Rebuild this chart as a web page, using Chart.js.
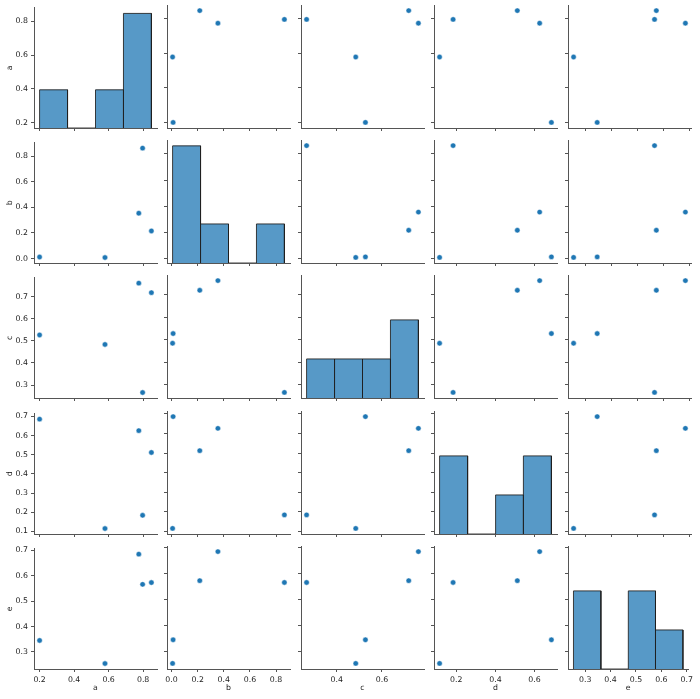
<!DOCTYPE html>
<html>
<head>
<meta charset="utf-8">
<script src="https://cdn.jsdelivr.net/npm/chart.js@4.4.1/dist/chart.umd.min.js"></script>
<style>
html, body { margin: 0; padding: 0; background: #ffffff; }
#fig { position: relative; width: 700px; height: 699px; overflow: hidden; background: #ffffff; }
#fig canvas { position: absolute; }
</style>
</head>
<body>
<div id="fig"></div>
<script>
// ---- data ----
const variables = ['a', 'b', 'c', 'd', 'e'];

const aValues = [0.200, 0.579, 0.775, 0.797, 0.848];
const bValues = [0.012, 0.008, 0.355, 0.864, 0.216];
const cValues = [0.527, 0.484, 0.762, 0.266, 0.719];
const dValues = [0.686, 0.115, 0.626, 0.184, 0.512];
const eValues = [0.345, 0.254, 0.685, 0.566, 0.573];

// histogram bins (edges) and counts on the diagonal
const aBinEdges = [0.200, 0.362, 0.524, 0.686, 0.848];
const aCounts   = [1, 0, 1, 3];
const bBinEdges = [0.008, 0.222, 0.436, 0.650, 0.864];
const bCounts   = [3, 1, 0, 1];
const cBinEdges = [0.266, 0.390, 0.514, 0.638, 0.762];
const cCounts   = [1, 1, 1, 2];
const dBinEdges = [0.115, 0.258, 0.401, 0.543, 0.686];
const dCounts   = [2, 0, 1, 2];
const eBinEdges = [0.254, 0.362, 0.470, 0.577, 0.685];
const eCounts   = [2, 0, 2, 1];

// tick labels: rows (y) and columns (x)
const aRowTicks = [0.2, 0.4, 0.6, 0.8];
const bRowTicks = [0.0, 0.2, 0.4, 0.6, 0.8];
const cRowTicks = [0.3, 0.4, 0.5, 0.6, 0.7];
const dRowTicks = [0.1, 0.2, 0.3, 0.4, 0.5, 0.6, 0.7];
const eRowTicks = [0.3, 0.4, 0.5, 0.6, 0.7];

const aColTicks = [0.2, 0.4, 0.6, 0.8];
const bColTicks = [0.0, 0.2, 0.4, 0.6, 0.8];
const cColTicks = [0.4, 0.6];
const dColTicks = [0.2, 0.4, 0.6];
const eColTicks = [0.3, 0.4, 0.5, 0.6, 0.7];

// ---- tables built from the arrays ----
const valuesByVar = { a: aValues, b: bValues, c: cValues, d: dValues, e: eValues };
const edgesByVar  = { a: aBinEdges, b: bBinEdges, c: cBinEdges, d: dBinEdges, e: eBinEdges };
const countsByVar = { a: aCounts, b: bCounts, c: cCounts, d: dCounts, e: eCounts };
const rowTicksByVar = { a: aRowTicks, b: bRowTicks, c: cRowTicks, d: dRowTicks, e: eRowTicks };
const colTicksByVar = { a: aColTicks, b: bColTicks, c: cColTicks, d: dColTicks, e: eColTicks };
// the diagonal histograms share one count axis
const sharedMaxCount = Math.max(...aCounts, ...bCounts, ...cCounts, ...dCounts, ...eCounts);

// ---- layout / style ----
const colLeft = [34, 167, 301, 434, 568];
const rowTop  = [5, 140, 275, 411, 546];
const plotW = 123, plotH = 123;
const padL = 34, padB = 30, padT = 5, padR = 5;
const FONT = { family: 'DejaVu Sans', size: 7.8 };
const TEXT = '#222222';
const SPINE = '#555555';
const BLUE = '#1f77b4';

function limits(vals) {
  const lo = Math.min(...vals), hi = Math.max(...vals);
  const m = (hi - lo) * 0.05;
  return [lo - m, hi + m];
}

function axis(kind, name, tickVals, showLabels, showTitle) {
  const [lo, hi] = limits(valuesByVar[name]);
  return {
    type: 'linear',
    position: kind === 'x' ? 'bottom' : 'left',
    min: lo, max: hi,
    afterBuildTicks: s => { s.ticks = tickVals.map(v => ({ value: v })); },
    afterFit: s => { if (kind === 'x') s.height = padB; else s.width = padL; },
    grid: { display: true, drawOnChartArea: false, drawTicks: true, tickLength: 3, tickColor: SPINE, lineWidth: 1 },
    border: { display: true, color: SPINE, width: 1 },
    ticks: {
      display: showLabels, padding: 3, font: FONT, color: TEXT,
      maxRotation: 0, minRotation: 0, autoSkip: false,
      callback: v => Number(v).toFixed(1)
    },
    title: { display: showTitle, text: name, font: FONT, color: TEXT, padding: { top: 5, bottom: 6 } }
  };
}

const fig = document.getElementById('fig');

variables.forEach((rowVar, r) => {
  variables.forEach((colVar, c) => {
    const canvas = document.createElement('canvas');
    const W = padL + plotW + padR, H = padT + plotH + padB;
    canvas.width = W; canvas.height = H;
    canvas.style.width = W + 'px'; canvas.style.height = H + 'px';
    canvas.style.left = (colLeft[c] - padL) + 'px';
    canvas.style.top = (rowTop[r] - padT) + 'px';
    fig.appendChild(canvas);

    const scales = {
      x: axis('x', colVar, colTicksByVar[colVar], r === 4, r === 4),
      y: axis('y', rowVar, rowTicksByVar[rowVar], c === 0, c === 0)
    };

    let datasets;
    if (r === c) {
      const edges = edgesByVar[colVar], counts = countsByVar[colVar];
      const outline = [];
      counts.forEach((n, i) => {
        outline.push({ x: edges[i], y: 0 }, { x: edges[i], y: n },
                     { x: edges[i + 1], y: n }, { x: edges[i + 1], y: 0 });
      });
      scales.yh = { type: 'linear', display: false, min: 0, max: sharedMaxCount * 1.05 };
      datasets = [{
        data: outline, yAxisID: 'yh', showLine: true, tension: 0,
        fill: 'origin', backgroundColor: 'rgba(31,119,180,0.75)',
        borderColor: 'rgba(30,30,30,0.85)', borderWidth: 1,
        pointRadius: 0, pointHoverRadius: 0
      }];
    } else {
      const xs = valuesByVar[colVar], ys = valuesByVar[rowVar];
      datasets = [{
        data: xs.map((x, i) => ({ x: x, y: ys[i] })),
        backgroundColor: BLUE, borderColor: '#ffffff', borderWidth: 0.5,
        pointRadius: 2.7, pointHoverRadius: 2.7, clip: 4
      }];
    }

    new Chart(canvas, {
      type: 'scatter',
      data: { datasets: datasets },
      options: {
        responsive: false, animation: false, devicePixelRatio: 1,
        layout: { padding: { top: padT, right: padR, left: 0, bottom: 0 } },
        plugins: { legend: { display: false }, tooltip: { enabled: false } },
        events: [],
        scales: scales
      }
    });
  });
});
</script>
</body>
</html>
